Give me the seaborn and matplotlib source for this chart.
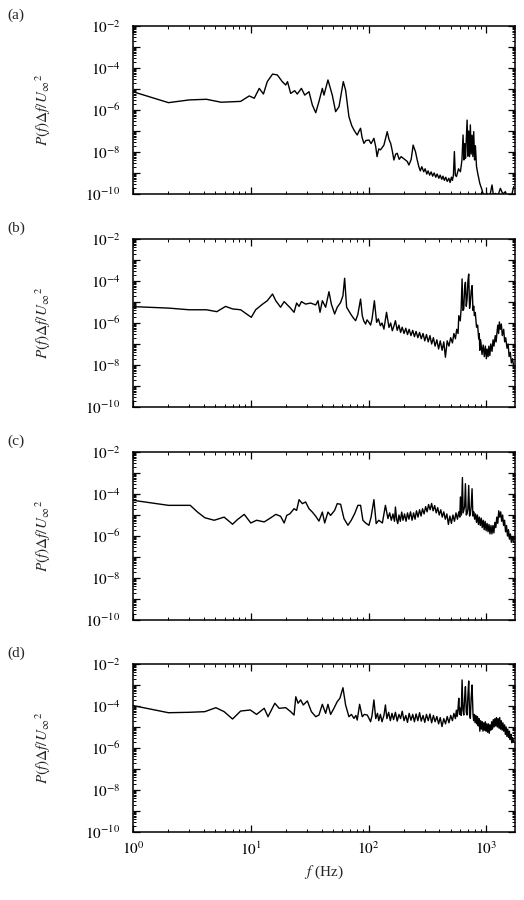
import numpy as np
import pandas as pd
import matplotlib
matplotlib.use("Agg")
import matplotlib.pyplot as plt
import seaborn as sns
from matplotlib.ticker import LogLocator, FuncFormatter, NullFormatter

# ---------------- data (frequency in Hz, log10 of P(f)Δf/U∞²) ----------------
a_f = [1.0, 2.0, 3.0, 4.2, 5.6, 8.2, 9.7, 10.7, 11.8, 12.8, 13.8, 15.3, 16.8, 18.5, 19.8,
       20.5, 21.8, 23.6, 24.8, 26.9, 28.7, 31.2, 33.3, 35.6, 37.9, 40.5, 41.8, 45.2, 49.2,
       52.5, 56.1, 61.0, 63.8, 68.1, 72, 75.1, 78, 80.1, 83, 85.5, 88, 91.3, 95, 100.7,
       105, 111, 115, 118, 122, 126, 130, 135, 140, 144, 149, 154, 159, 164, 170, 175, 182,
       189, 197, 206, 213, 220, 230, 239, 245, 250, 258,
       267, 275, 283, 294, 302, 312, 320, 330, 340, 350, 360, 372, 382, 395, 405, 418, 428,
       440, 452, 465, 480, 492, 505, 515, 525,
       535, 545, 557, 580, 602, 620, 634, 645, 655, 665, 675, 686, 697, 708, 720, 731, 743,
       756, 768, 781, 794, 807, 825, 845, 880, 919, 960, 1014, 1060, 1117, 1150, 1192, 1250,
       1315, 1380, 1449, 1520, 1597, 1650, 1706]
a_logP = [-5.13, -5.65, -5.52, -5.49, -5.63, -5.59, -5.33, -5.44, -4.97, -5.24, -4.65, -4.29,
          -4.33, -4.65, -4.81, -4.65, -5.21, -5.08, -5.24, -4.97, -5.29, -5.13, -5.76, -6.13,
          -5.60, -4.97, -5.29, -4.57, -5.29, -6.08, -5.84, -4.65, -5.05, -6.32, -6.75, -6.95,
          -7.10, -7.19, -7.00, -6.87, -7.30, -7.59, -7.45, -7.43, -7.60, -7.35, -7.75, -8.22,
          -7.85, -7.90, -7.80, -7.67, -7.30, -7.03, -7.40, -7.59, -7.95, -8.38, -8.10, -8.06,
          -8.35, -8.22, -8.30, -8.38, -8.45, -8.62, -8.35, -7.67, -7.85, -7.98, -8.35,
          -8.70, -8.90, -8.70, -8.94, -8.80, -9.05, -8.90, -9.10, -8.95, -9.15, -9.00, -9.20,
          -9.05, -9.25, -9.10, -9.30, -9.15, -9.35, -9.20, -9.40, -9.25, -9.45, -9.20, -9.35,
          -9.10,
          -7.98, -9.10, -9.17, -8.80, -8.94, -8.40, -7.19, -8.38, -7.60, -8.30, -7.40, -6.48,
          -8.20, -7.00, -8.22, -6.71, -8.10, -7.20, -8.22, -7.03, -8.38, -7.70, -8.70, -9.02,
          -9.50, -9.81, -10.2, -9.97, -10.2, -9.57, -10.1, -9.97, -10.1, -9.73, -10.0, -9.89,
          -10.2, -10.2, -10.0, -9.65]

b_f = [1.0, 2.0, 3.0, 4.2, 5.15, 6.1, 7.0, 8.2, 10.1, 11.0, 12.6, 13.8, 15.3, 16.3, 17.9,
       19.2, 20.7, 21.8, 23.3, 24.5, 25.7, 26.9, 29.2, 32.2, 35.6, 37.2, 38.7, 40.5, 43.2,
       46.1, 48.3, 51.5, 54.2, 57.9, 60.6, 62.6, 65.1, 70.4, 74, 77.6, 81, 85.5, 88.4, 91,
       94.3, 97, 100.7, 104, 107, 112, 117, 121, 126, 130, 135, 142,
       149, 154, 159, 164, 169, 175, 181, 187, 193, 200, 207, 214, 221, 229, 237, 245, 253,
       262, 271, 280, 290, 300, 310, 321, 332, 343, 355, 367, 380, 393, 406, 421, 435, 449,
       465, 481, 498, 515, 530, 546, 560, 575, 583, 600, 611, 622, 632, 643, 654, 664, 675,
       686, 697, 708, 720, 731, 743, 756, 770, 781, 791, 805, 825, 843, 861, 870, 880, 890,
       900, 919, 940, 960, 980, 1000, 1014, 1035, 1050, 1070, 1090, 1117, 1140, 1160, 1190,
       1210, 1231, 1250, 1270, 1290, 1315, 1340, 1365, 1403, 1430, 1460, 1497, 1530, 1560,
       1597, 1630, 1670, 1706]
b_logP = [-5.22, -5.29, -5.37, -5.37, -5.46, -5.21, -5.33, -5.37, -5.73, -5.37, -5.10, -4.94,
          -4.62, -4.94, -5.25, -4.98, -5.17, -5.30, -5.49, -5.05, -5.21, -4.98, -5.10, -5.05,
          -5.14, -4.94, -5.49, -4.94, -5.25, -4.51, -5.10, -5.57, -5.25, -5.02, -4.70, -3.87,
          -5.25, -5.57, -5.75, -5.89, -5.60, -4.86, -5.65, -5.90, -6.05, -5.85, -5.97, -6.10,
          -5.81, -4.94, -5.97, -5.80, -6.13, -6.00, -6.29, -5.49,
          -6.21, -6.00, -6.37, -6.15, -5.89, -6.35, -6.10, -6.45, -6.20, -6.50, -6.25, -6.55,
          -6.30, -6.60, -6.35, -6.65, -6.40, -6.70, -6.45, -6.75, -6.50, -6.85, -6.55, -6.90,
          -6.60, -7.00, -6.70, -7.10, -6.80, -7.24, -6.85, -7.30, -6.90, -7.63, -6.85, -7.10,
          -6.70, -6.95, -6.50, -6.75, -6.30, -6.50, -5.65, -5.90, -5.30, -3.90, -5.40, -5.33,
          -4.30, -4.06, -5.20, -4.86, -4.00, -3.67, -5.30, -5.02, -4.50, -4.22, -5.40, -5.20,
          -5.65, -5.50, -6.20, -6.10, -6.76, -6.50, -7.30, -6.80, -6.95, -7.50, -7.05, -7.60,
          -7.10, -7.70, -7.24, -7.60, -7.10, -7.55, -7.00, -7.35, -6.80, -7.10, -6.60, -6.90,
          -6.44, -6.10, -6.50, -5.95, -6.30, -6.05, -6.60, -6.30, -6.90, -6.70, -7.20, -7.00,
          -7.60, -7.40, -7.90, -7.70, -8.10]

c_f = [1.0, 2.0, 3.06, 3.53, 4.07, 4.89, 5.94, 7.0, 7.7, 8.8, 10.0, 11.2, 13.0, 14.8, 16.3,
       17.9, 19.2, 20.2, 21.5, 23.3, 24.5, 25.7, 27.4, 29.2, 31.2, 33.3, 35.6, 37.9, 40.5,
       42.4, 45.2, 47.6, 51.5, 54.2, 57.9, 61.8, 66.8, 71.3, 76.1, 81.2, 85.5, 89.5, 94.3,
       100.7, 105, 111, 116, 122, 131, 139,
       146, 151, 156, 161, 166, 169, 173, 177, 181, 186, 191, 196, 202, 208, 214, 220, 227,
       234, 241, 248, 255, 263, 271, 279, 287, 296, 305, 314, 323, 333, 343, 353, 364, 375,
       386, 398, 410, 422, 435, 448, 462, 476, 490, 505, 520, 536, 552, 568, 583, 595, 602,
       614, 626, 635, 643, 654, 664, 675, 686, 697, 708, 720, 731, 743, 756, 768, 781, 795,
       810, 825, 840, 856, 872, 888, 905, 922, 940, 958, 976, 995, 1014, 1033, 1053, 1073,
       1094, 1115, 1136, 1158, 1180, 1203, 1226, 1250, 1274, 1298, 1323, 1348, 1374, 1400,
       1427, 1455, 1483, 1511, 1540, 1570, 1600, 1630, 1660, 1706]
c_logP = [-4.30, -4.54, -4.54, -4.86, -5.13, -5.25, -5.10, -5.44, -5.22, -4.97, -5.38, -5.25,
          -5.33, -5.13, -4.97, -5.06, -5.38, -5.02, -4.94, -4.70, -4.78, -4.27, -4.46, -4.38,
          -4.70, -4.86, -5.06, -5.29, -4.86, -5.38, -4.86, -5.02, -4.78, -4.46, -4.49, -5.17,
          -5.49, -5.25, -4.94, -4.54, -4.54, -5.25, -5.38, -5.49, -5.10, -4.27, -5.41, -5.25,
          -5.38, -4.54,
          -5.17, -4.90, -5.25, -4.95, -5.30, -4.62, -5.20, -5.41, -5.00, -5.30, -4.86, -5.25,
          -4.95, -5.30, -4.90, -5.20, -4.85, -5.25, -4.90, -5.20, -4.80, -5.10, -4.75, -5.05,
          -4.70, -4.95, -4.60, -4.85, -4.50, -4.75, -4.45, -4.80, -4.55, -4.90, -4.65, -5.00,
          -4.75, -5.10, -4.85, -5.20, -4.95, -5.45, -5.05, -5.40, -5.00, -5.30, -4.90, -5.20,
          -4.85, -5.10, -4.14, -5.00, -3.22, -4.90, -4.78, -4.60, -3.51, -5.00, -4.94, -4.70,
          -3.59, -5.05, -4.94, -4.60, -3.75, -5.05, -4.85, -5.20, -4.95, -5.35, -5.00, -5.45,
          -5.10, -5.50, -5.15, -5.60, -5.25, -5.70, -5.30, -5.75, -5.40, -5.80, -5.45, -5.90,
          -5.50, -5.90, -5.50, -5.85, -5.35, -5.60, -5.10, -5.40, -4.80, -5.10, -4.85, -5.30,
          -5.00, -5.50, -5.25, -5.80, -5.50, -6.00, -5.70, -6.15, -5.90, -6.30, -6.05, -6.30]

d_f = [1.0, 2.0, 3.0, 4.07, 5.05, 5.94, 7.0, 8.2, 9.9, 11.2, 13.0, 14.0, 16.0, 17.4, 19.8,
       21.8, 23.3, 24.1, 25.2, 26.5, 27.9, 30.2, 32.7, 35.6, 37.9, 40.5, 43.2, 45.2, 47.6,
       50.8, 54.2, 57.1, 60.6, 63.8, 68.1, 71.5, 75.1, 78, 80.1, 83.9, 88.4, 92, 97.4,
       100, 104, 107, 111, 115, 119, 122, 126, 130, 135, 139, 143, 148, 153, 158, 163, 169,
       175, 181, 187, 193, 200, 207, 214, 221, 229, 237, 245, 253, 262, 271, 280, 290, 300,
       310, 321, 332, 343, 355, 367, 380, 393, 406, 420, 435, 450, 465, 481, 498, 515, 530,
       546, 556, 565, 575, 583, 592, 600, 611, 622, 632, 643, 654, 664, 675, 686, 697, 708,
       720, 731, 743, 756, 770, 780, 791, 803, 815, 828, 840, 853, 866, 880, 894, 908, 922,
       936, 950, 965, 980, 995, 1010, 1026, 1042, 1058, 1075, 1092, 1110, 1127, 1145, 1163,
       1181, 1200, 1219, 1238, 1258, 1278, 1298, 1318, 1339, 1360, 1382, 1404, 1426, 1449,
       1472, 1495, 1519, 1543, 1568, 1593, 1618, 1644, 1670, 1706]
d_logP = [-3.98, -4.32, -4.30, -4.27, -4.08, -4.27, -4.62, -4.24, -4.19, -4.40, -4.11, -4.51,
          -3.87, -4.11, -4.08, -4.27, -4.43, -3.56, -3.87, -3.71, -3.95, -3.76, -4.27, -4.51,
          -4.43, -3.92, -4.35, -3.92, -4.40, -4.11, -3.79, -3.63, -3.13, -3.95, -4.51, -4.40,
          -4.59, -4.45, -4.67, -3.92, -4.51, -4.40, -4.43,
          -4.55, -4.75, -4.45, -3.71, -4.60, -4.35, -4.70, -4.40, -4.75, -4.45, -3.95, -4.60,
          -4.30, -4.70, -4.35, -4.65, -4.30, -4.72, -4.40, -4.60, -4.25, -4.70, -4.45, -4.78,
          -4.35, -4.68, -4.40, -4.75, -4.38, -4.70, -4.32, -4.72, -4.45, -4.78, -4.40, -4.70,
          -4.38, -4.80, -4.45, -4.75, -4.50, -4.85, -4.55, -4.98, -4.60, -4.85, -4.50, -4.80,
          -4.45, -4.70, -4.35, -4.60, -4.20, -4.50, -4.10, -3.63, -4.40, -4.10, -4.45, -2.76,
          -4.20, -4.43, -3.60, -3.08, -4.30, -4.43, -3.50, -2.81, -4.40, -4.59, -3.60, -3.00,
          -4.40, -4.70, -4.40, -4.80, -4.45, -4.85, -4.50, -4.95, -4.60, -5.20, -4.70, -5.10,
          -4.75, -5.20, -4.80, -5.15, -4.75, -5.20, -4.85, -5.25, -4.85, -5.30, -4.90, -5.15,
          -4.75, -5.10, -4.65, -5.00, -4.60, -4.95, -4.55, -5.00, -4.60, -5.05, -4.55, -5.10,
          -4.70, -5.15, -4.80, -5.20, -4.90, -5.35, -5.00, -5.45, -5.10, -5.50, -5.20, -5.60,
          -5.35, -5.75, -5.50, -5.70]

panel_labels = ["(a)", "(b)", "(c)", "(d)"]
x_label = r"$f$ (Hz)"
y_label = r"$P(f)\Delta f/U_{\infty}{}^{2}$"

# ---------------- style ----------------
sns.set_theme(style="ticks")
plt.rcParams.update({
    "font.family": ["Liberation Serif", "DejaVu Serif"],
    "mathtext.fontset": "stix",
    "xtick.direction": "in",
    "ytick.direction": "in",
    "xtick.top": True,
    "ytick.right": True,
    "axes.linewidth": 1.1,
    "axes.edgecolor": "black",
    "xtick.color": "black",
    "ytick.color": "black",
})

W, H = 524, 900
fig = plt.figure(figsize=(W / 100, H / 100), dpi=100)

panels = [(a_f, a_logP), (b_f, b_logP), (c_f, c_logP), (d_f, d_logP)]
tops = [26, 239, 452, 664]
left_px, right_px, h_px = 133, 515, 168


def yfmt(v, pos):
    e = int(round(np.log10(v)))
    return r"$10^{%d}$" % e if e % 2 == 0 else ""


def xfmt(v, pos):
    e = int(round(np.log10(v)))
    return r"$10^{%d}$" % e


for i, ((fx, lp), top) in enumerate(zip(panels, tops)):
    ax = fig.add_axes([left_px / W, 1 - (top + h_px) / H, (right_px - left_px) / W, h_px / H])
    df = pd.DataFrame({"f": fx, "P": 10.0 ** np.array(lp)})
    sns.lineplot(data=df, x="f", y="P", ax=ax, color="black", lw=1.0,
                 estimator=None, sort=False)
    ax.set_xscale("log")
    ax.set_yscale("log")
    ax.set_xlim(1, 1750)
    ax.set_ylim(1e-10, 1e-2)

    ax.yaxis.set_major_locator(LogLocator(base=10, numticks=20))
    ax.yaxis.set_minor_locator(LogLocator(base=10, subs=np.arange(2, 10), numticks=20))
    ax.yaxis.set_major_formatter(FuncFormatter(yfmt))
    ax.yaxis.set_minor_formatter(NullFormatter())
    ax.xaxis.set_major_locator(LogLocator(base=10, numticks=10))
    ax.xaxis.set_minor_locator(LogLocator(base=10, subs=np.arange(2, 10), numticks=10))
    ax.xaxis.set_minor_formatter(NullFormatter())
    if i == 3:
        ax.xaxis.set_major_formatter(FuncFormatter(xfmt))
        ax.set_xlabel(x_label, fontsize=11, labelpad=4)
    else:
        ax.xaxis.set_major_formatter(NullFormatter())
        ax.set_xlabel("")

    ax.tick_params(which="major", length=5, width=0.9, labelsize=11, pad=6)
    ax.tick_params(axis="y", which="major", pad=9)
    ax.tick_params(which="minor", length=2.5, width=0.7)

    ax.set_ylabel(y_label, fontsize=11)
    ax.yaxis.set_label_coords(-0.21, 0.5)
    for s in ax.spines.values():
        s.set_visible(True)
        s.set_linewidth(1.1)

    fig.text(16 / W, 1 - (top - 11) / H, panel_labels[i], ha="center", va="center",
             fontsize=11)

fig.savefig("out.png", dpi=100, facecolor="white")
